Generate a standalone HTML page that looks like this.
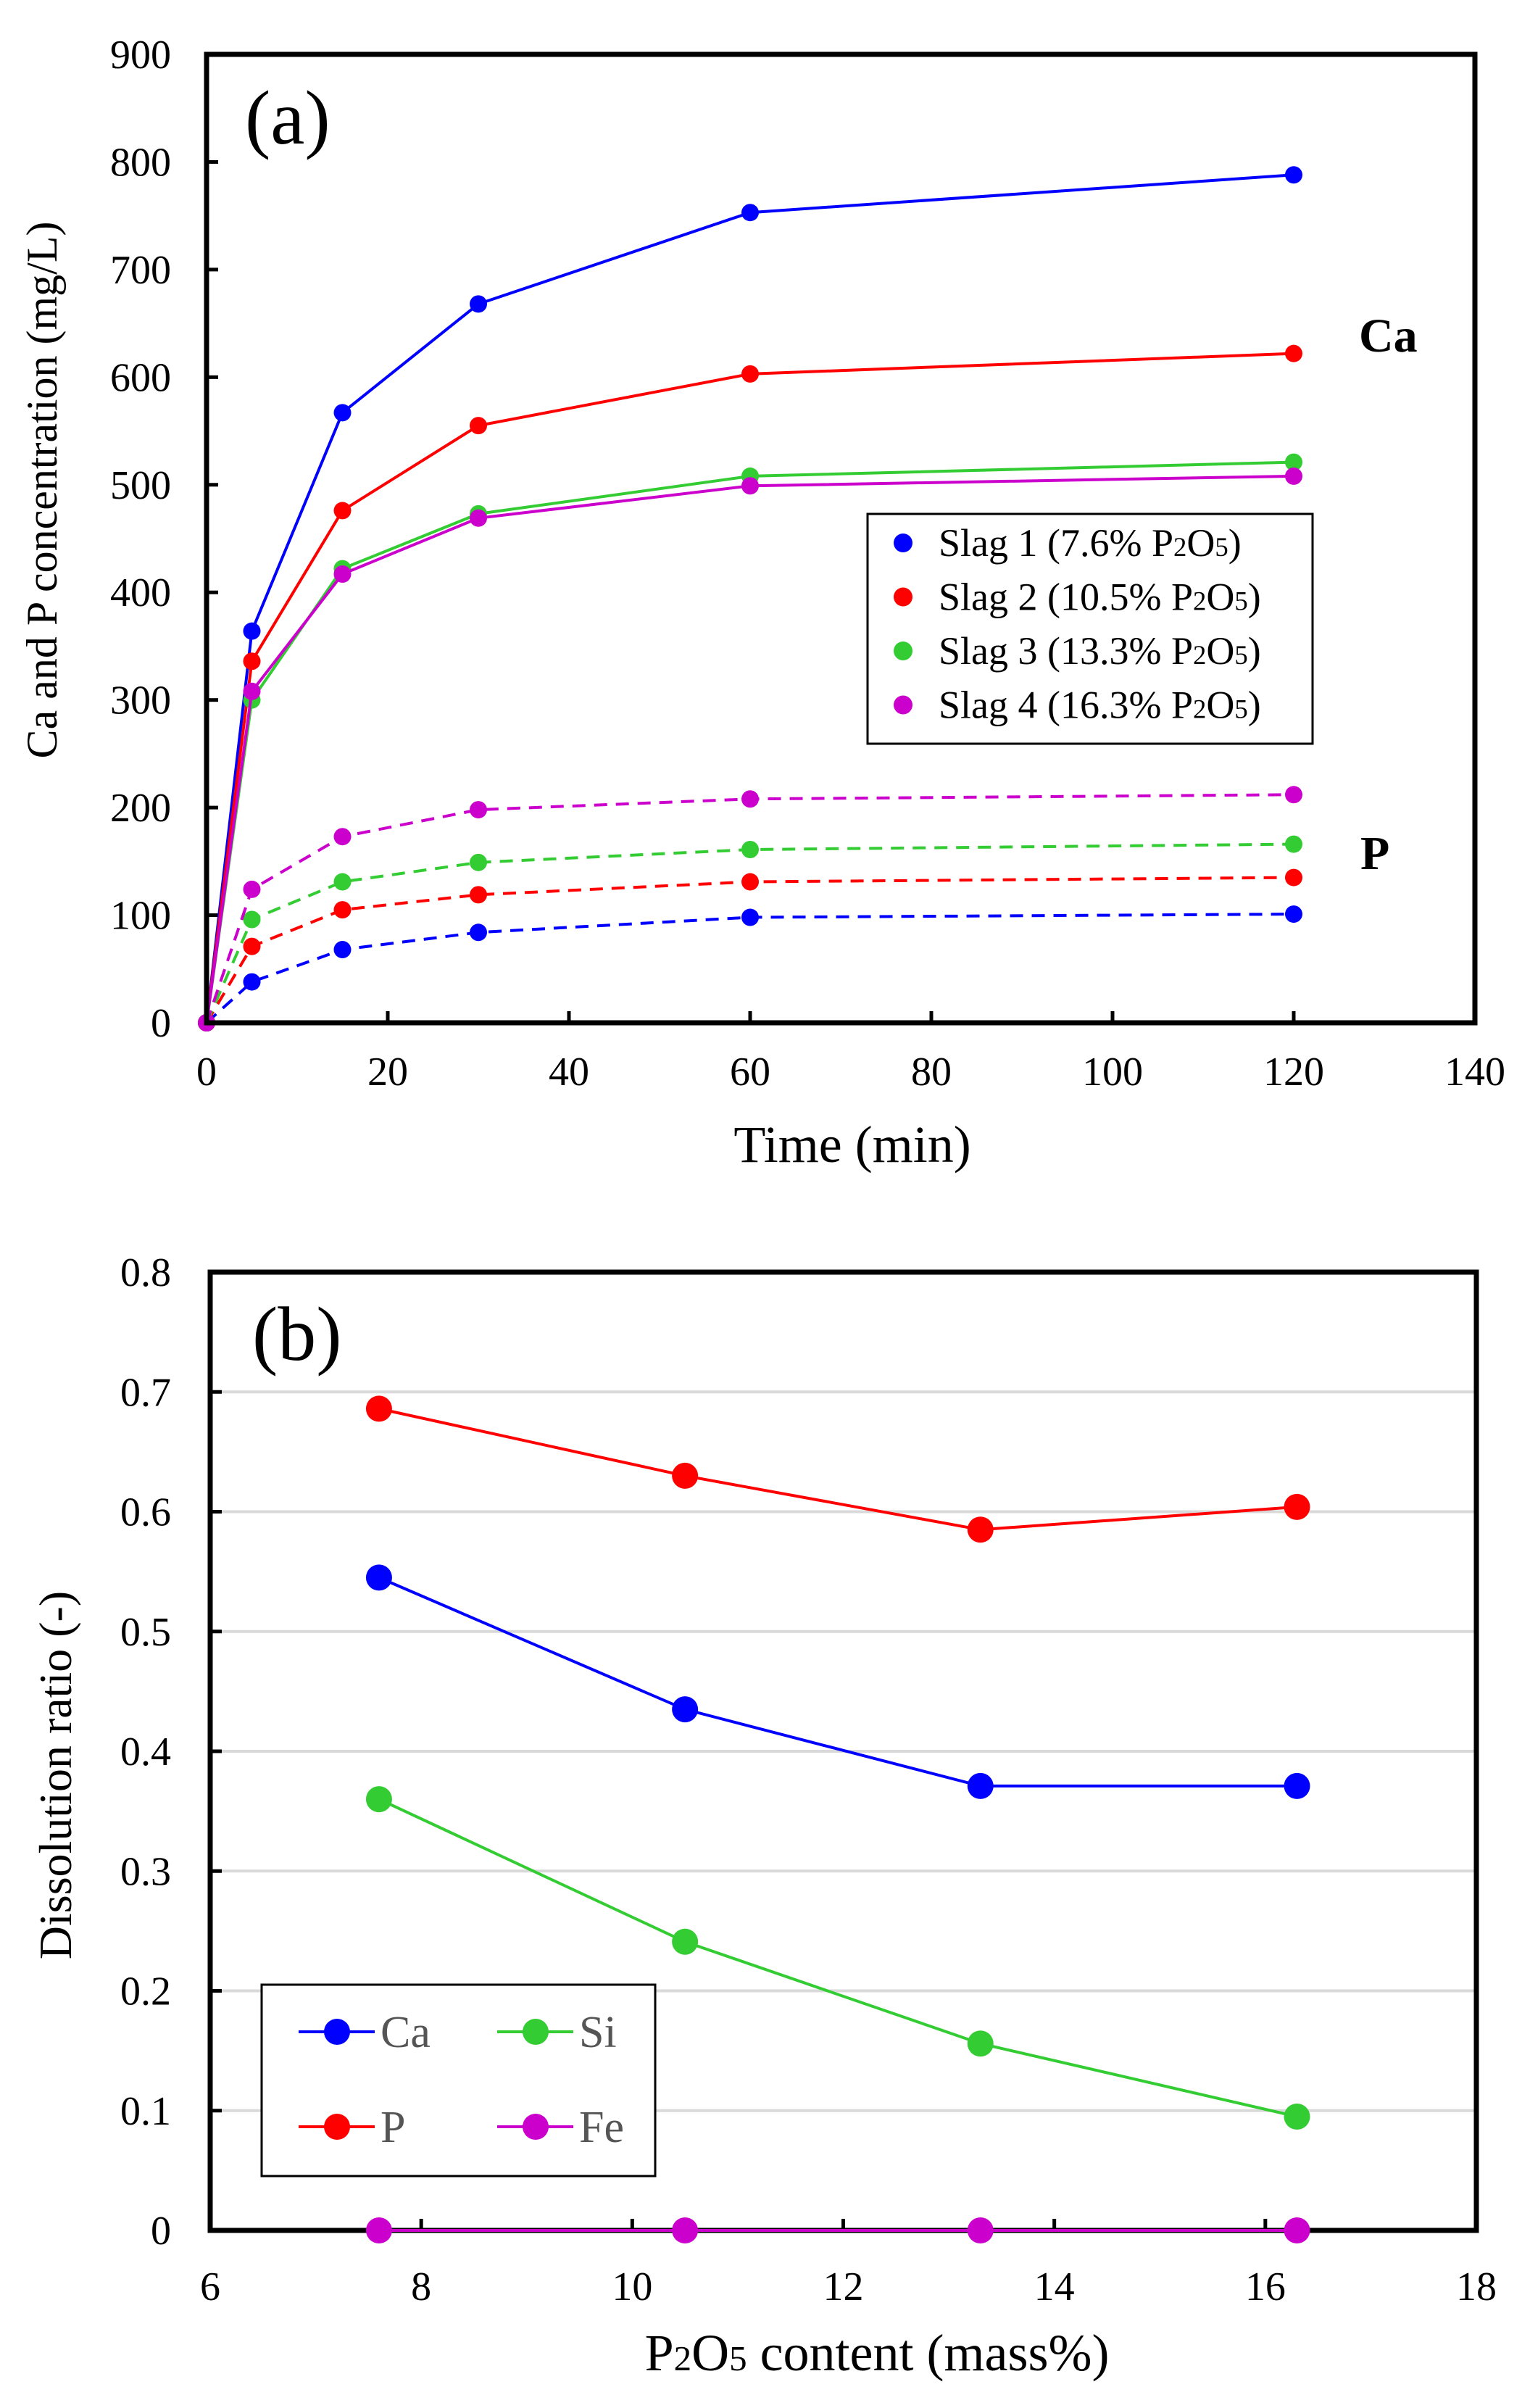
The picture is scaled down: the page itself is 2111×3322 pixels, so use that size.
<!DOCTYPE html>
<html><head><meta charset="utf-8"><style>
html,body{margin:0;padding:0;background:#fff;}
svg text{font-family:"Liberation Serif","Times New Roman",serif;}
</style></head><body>
<svg id="c" width="2111" height="3317" viewBox="0 0 2111 3317" font-family="Liberation Serif, serif">
<rect width="2111" height="3317" fill="#fff"/>
<g id="ga"></g>
<g id="gb"></g>
</svg>
<script>
const timesA=[0,5,15,30,60,120];
const caSlag1=[0,364,567,668,753,788];
const caSlag2=[0,336,476,555,603,622];
const caSlag3=[0,300,422,473,508,521];
const caSlag4=[0,308,417,469,499,508];
const pSlag1=[0,38,68,84,98,101];
const pSlag2=[0,71,105,119,131,135];
const pSlag3=[0,96,131,149,161,166];
const pSlag4=[0,124,173,198,208,212];
const xTicksA=[0,20,40,60,80,100,120,140];
const yTicksA=[0,100,200,300,400,500,600,700,800,900];
const legendA=["Slag 1 (7.6% ","Slag 2 (10.5% ","Slag 3 (13.3% ","Slag 4 (16.3% "];

const p2o5B=[7.6,10.5,13.3,16.3];
const caB=[0.545,0.435,0.371,0.371];
const pB=[0.686,0.630,0.585,0.604];
const siB=[0.360,0.241,0.156,0.095];
const feB=[0,0,0,0];
const xTicksB=[6,8,10,12,14,16,18];
const yTicksB=[0,0.1,0.2,0.3,0.4,0.5,0.6,0.7,0.8];

const NS="http://www.w3.org/2000/svg";
const FF='"Liberation Serif","Times New Roman",serif';
function mk(parent,tag,attrs,text){const e=document.createElementNS(NS,tag);for(const k in attrs)e.setAttribute(k,attrs[k]);if(tag==='text'||tag==='tspan')e.style.fontFamily=FF;if(text!==undefined)e.textContent=text;parent.appendChild(e);return e;}
function p2o5(textEl,fs,tail){
 mk(textEl,'tspan',{},'P');
 mk(textEl,'tspan',{'font-size':fs*0.68},'2');
 mk(textEl,'tspan',{},'O');
 mk(textEl,'tspan',{'font-size':fs*0.68},'5');
 if(tail)mk(textEl,'tspan',{},tail);
}
const colors=["#0000ff","#ff0000","#33cc33","#cc00cc"];

// ---- chart a ----
const ga=document.getElementById('ga');
const AL=285,AR=2035,AT=75,AB=1411;
const xa=v=>AL+(v-0)/(140-0)*(AR-AL);
const ya=v=>AB-(v-0)/(900-0)*(AB-AT);
yTicksA.forEach(v=>{
 let t=mk(ga,'line',{x1:AL,x2:AL+16,y1:ya(v),y2:ya(v),stroke:'#000','stroke-width':5});
 
 let l=mk(ga,'text',{x:236,y:ya(v)+19,'font-size':56,'text-anchor':'end'},String(v));
 
});
xTicksA.forEach(v=>{
 let t=mk(ga,'line',{x1:xa(v),x2:xa(v),y1:AB,y2:AB-16,stroke:'#000','stroke-width':5});
 
 let l=mk(ga,'text',{x:xa(v),y:1497,'font-size':56,'text-anchor':'middle'},String(v));
 
});
const caAll=[caSlag1,caSlag2,caSlag3,caSlag4], pAll=[pSlag1,pSlag2,pSlag3,pSlag4];
[pAll,caAll].forEach((set,si)=>{
 set.forEach((ser,i)=>{
  const d=ser.map((v,j)=>(j?'L':'M')+xa(timesA[j])+','+ya(v)).join(' ');
  const pa=mk(ga,'path',{d:d,fill:'none',stroke:colors[i],'stroke-width':4});
  if(si===0)pa.setAttribute('stroke-dasharray','18 12');
  
  ser.forEach((v,j)=>{const c=mk(ga,'circle',{cx:xa(timesA[j]),cy:ya(v),r:12,fill:colors[i]});
   });
 });
});
let fa=mk(ga,'rect',{x:AL,y:AT,width:AR-AL,height:AB-AT,fill:'none',stroke:'#000','stroke-width':7});

let t;
t=mk(ga,'text',{x:338,y:198,'font-size':106},'(a)');
t=mk(ga,'text',{x:1875,y:485,'font-size':66,'font-weight':'bold'},'Ca');
t=mk(ga,'text',{x:1877,y:1199,'font-size':66,'font-weight':'bold'},'P');
t=mk(ga,'text',{x:1176,y:1603,'font-size':72,'text-anchor':'middle'},'Time (min)');
t=mk(ga,'text',{x:0,y:0,'font-size':60,'text-anchor':'middle',transform:'translate(78,676) rotate(-90)'},'Ca and P concentration  (mg/L)');
let la=mk(ga,'rect',{x:1197,y:709,width:614,height:317,fill:'#fff',stroke:'#000','stroke-width':3});

legendA.forEach((s,i)=>{const yy=749+i*74.5;
 const c=mk(ga,'circle',{cx:1246,cy:yy,r:13,fill:colors[i]});
 const tx=mk(ga,'text',{x:1295,y:yy+18,'font-size':54},s);
 p2o5(tx,54,')');
});

// ---- chart b ----
const gb=document.getElementById('gb');
const BL=290,BR=2037,BT=1755,BB=3077;
const xb=v=>BL+(v-6)/(18-6)*(BR-BL);
const yb=v=>BB-(v-0)/(0.8-0)*(BB-BT);
yTicksB.forEach(v=>{
 if(v>0&&v<0.8){let g=mk(gb,'line',{x1:BL,x2:BR,y1:yb(v),y2:yb(v),stroke:'#d9d9d9','stroke-width':4});
  }
 let tk=mk(gb,'line',{x1:BL,x2:BL+16,y1:yb(v),y2:yb(v),stroke:'#000','stroke-width':5});
 
 let l=mk(gb,'text',{x:236,y:yb(v)+19,'font-size':56,'text-anchor':'end'},v===0?'0':v.toFixed(1));
 
});
xTicksB.forEach(v=>{
 let tk=mk(gb,'line',{x1:xb(v),x2:xb(v),y1:BB,y2:BB-16,stroke:'#000','stroke-width':5});
 
 let l=mk(gb,'text',{x:xb(v),y:3173,'font-size':56,'text-anchor':'middle'},String(v));
 
});
let fb=mk(gb,'rect',{x:BL,y:BT,width:BR-BL,height:BB-BT,fill:'none',stroke:'#000','stroke-width':7});

const seriesB=[[caB,'#0000ff','ca'],[pB,'#ff0000','p'],[siB,'#33cc33','si'],[feB,'#cc00cc','fe']];
seriesB.forEach(([ser,col,nm])=>{
 const d=ser.map((v,j)=>(j?'L':'M')+xb(p2o5B[j])+','+yb(v)).join(' ');
 const pa=mk(gb,'path',{d:d,fill:'none',stroke:col,'stroke-width':4});
 
 ser.forEach((v,j)=>{const c=mk(gb,'circle',{cx:xb(p2o5B[j]),cy:yb(v),r:18,fill:col});
  });
});
t=mk(gb,'text',{x:348,y:1876,'font-size':106},'(b)');
t=mk(gb,'text',{x:1210,y:3270,'font-size':72,'text-anchor':'middle'});
p2o5(t,72,' content (mass%)');
t=mk(gb,'text',{x:0,y:0,'font-size':64,'text-anchor':'middle',transform:'translate(98,2449) rotate(-90)'},'Dissolution ratio (-)');
let lb=mk(gb,'rect',{x:361,y:2738,width:543,height:264,fill:'#fff',stroke:'#000','stroke-width':3});

const legB=[['Ca','#0000ff',412,2803],['Si','#33cc33',686,2803],['P','#ff0000',412,2934],['Fe','#cc00cc',686,2934]];
legB.forEach(([s,col,x0,yy])=>{
 const ln=mk(gb,'line',{x1:x0,x2:x0+105,y1:yy,y2:yy,stroke:col,'stroke-width':4});
 const c=mk(gb,'circle',{cx:x0+53,cy:yy,r:18,fill:col});
 const tx=mk(gb,'text',{x:x0+113,y:yy+21,'font-size':62,fill:'#555'},s);
});
</script>
</body></html>
